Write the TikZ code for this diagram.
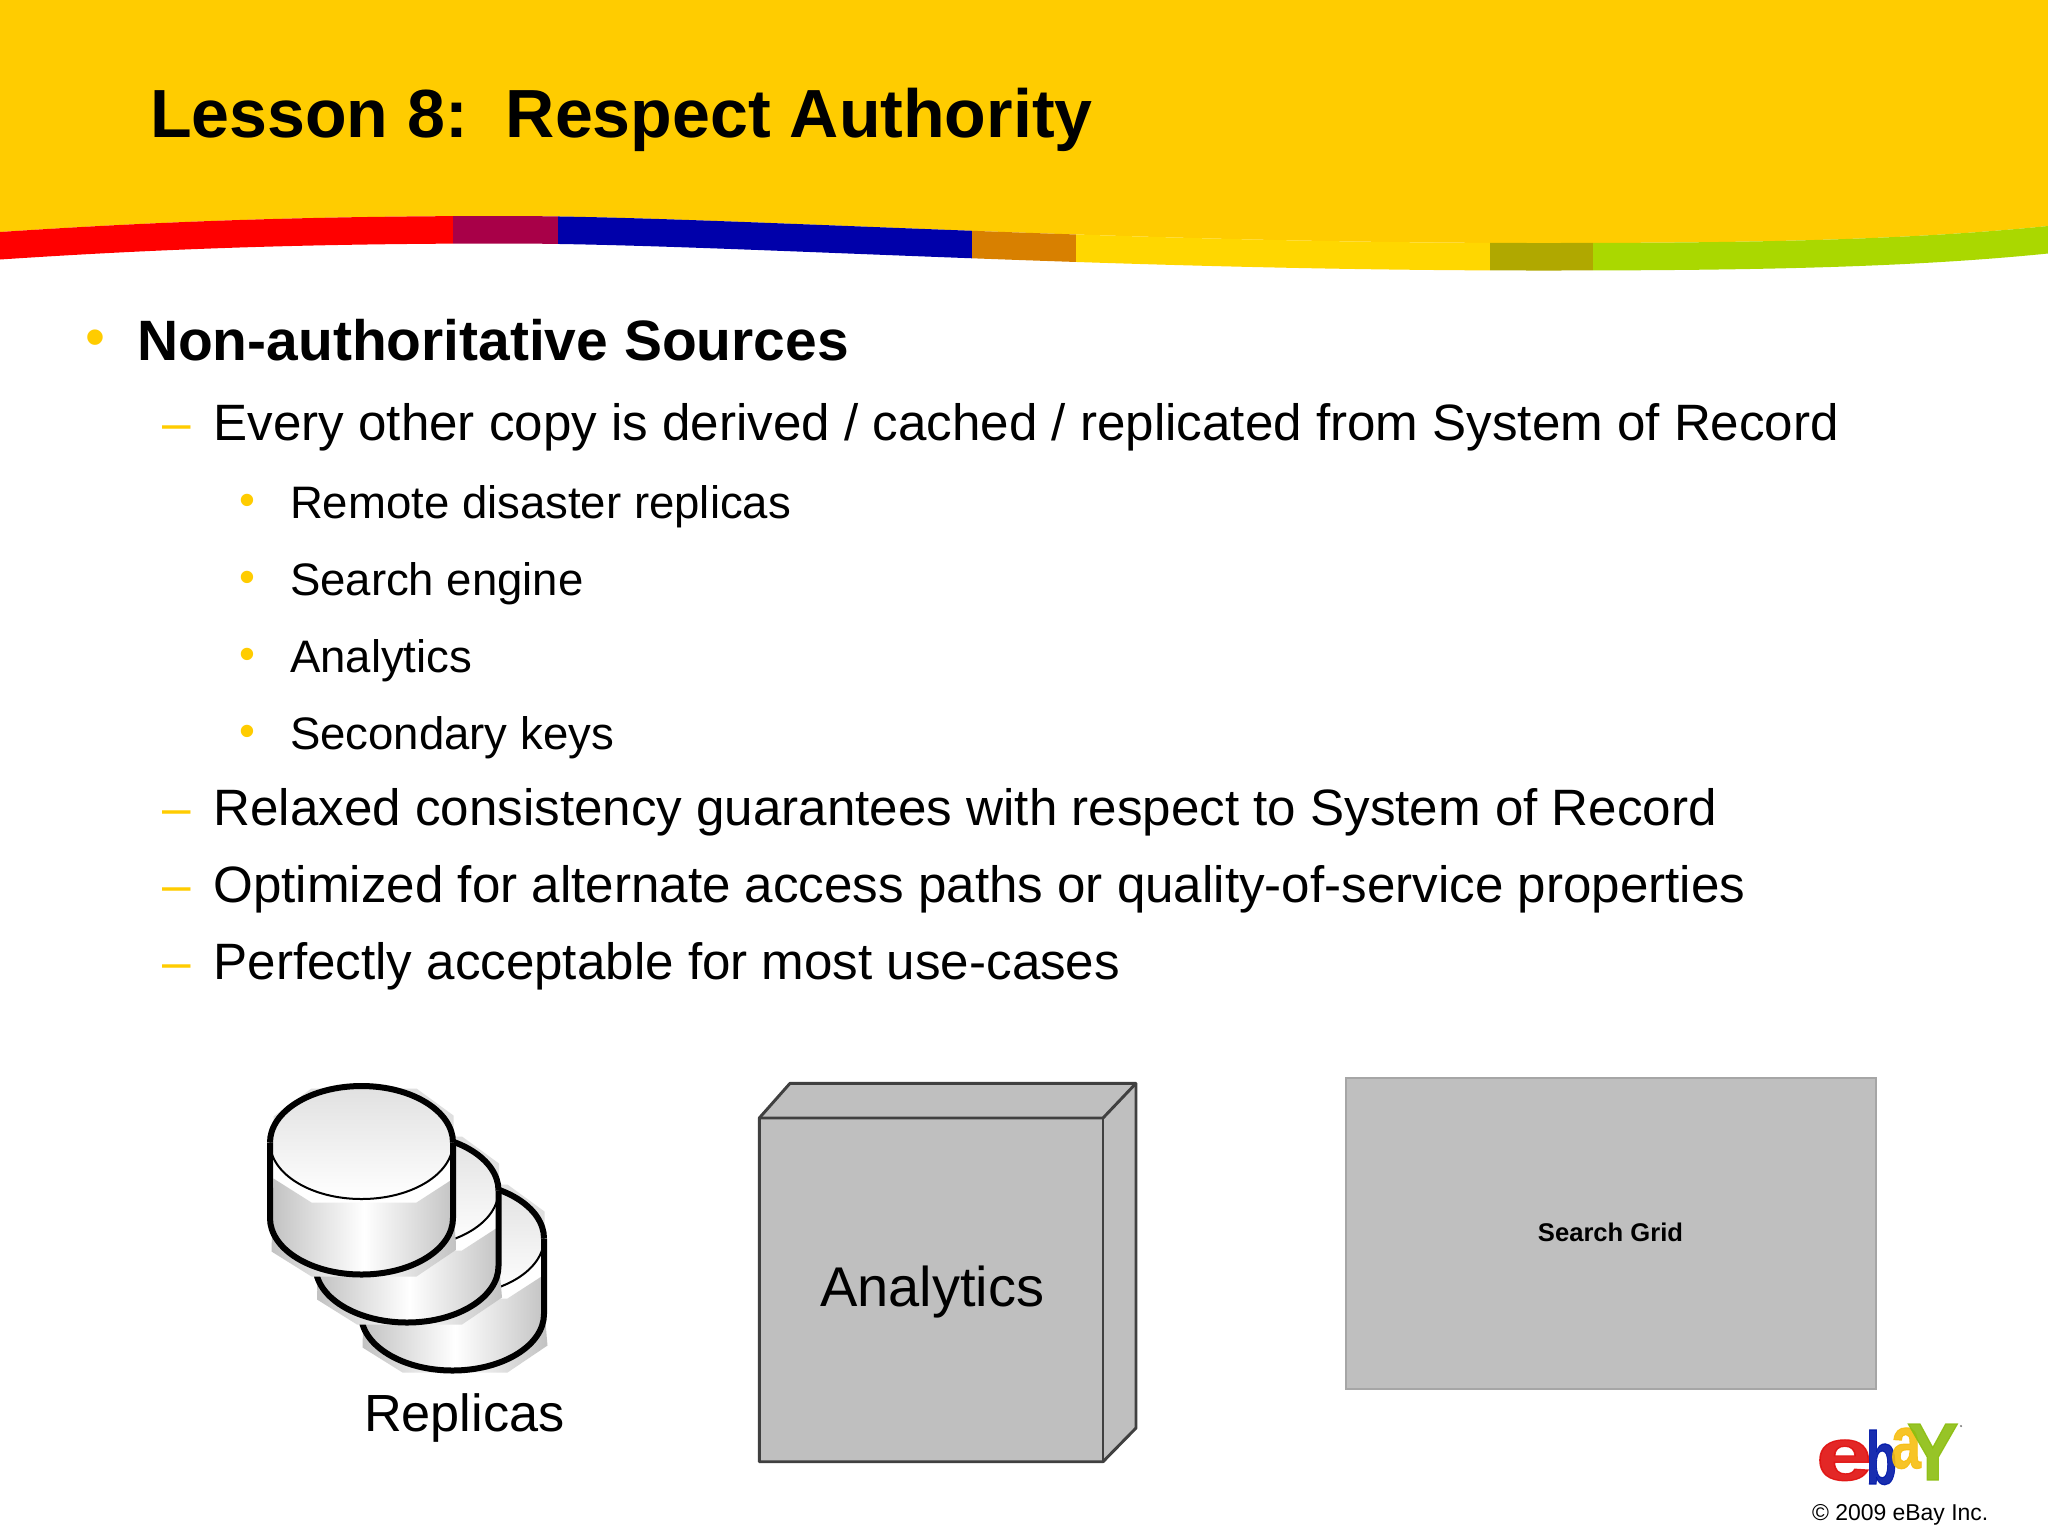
\documentclass[tikz,border=0pt]{standalone}
\usepackage{fontspec}
\setmainfont{Liberation Sans}
\newfontfamily\logoface[BoldFeatures={FakeBold=1.6}]{Liberation Sans}
\definecolor{banner}{HTML}{FFCC00}
\definecolor{wred}{HTML}{FF0000}
\definecolor{wmaroon}{HTML}{A80048}
\definecolor{wblue}{HTML}{0000AA}
\definecolor{worange}{HTML}{D88000}
\definecolor{wyellow}{HTML}{FFD700}
\definecolor{wolive}{HTML}{B0A800}
\definecolor{wgreen}{HTML}{AAD800}
\definecolor{boxgray}{HTML}{BFBFBF}
\definecolor{boxline}{HTML}{404040}
\definecolor{logored}{HTML}{E0100F}
\definecolor{logoblue}{HTML}{0018A8}
\definecolor{logoyellow}{HTML}{F7BE10}
\definecolor{logogreen}{HTML}{8CBE10}
\newcommand{\wavetop}{(0,232) .. controls (150,222) and (300,216) .. (505,216) .. controls (720,216) and (1100,243) .. (1540,243) .. controls (1730,243) and (1900,241) .. (2048,226)}
\newcommand{\fsz}[1]{\fontsize{#1pt}{#1pt}\selectfont}
\tikzset{
  txt/.style={anchor=base west,inner sep=0pt,outer sep=0pt,text=black},
  titletxt/.style={txt,font=\fsz{51.1}\bfseries},
  lone/.style={txt,font=\fsz{42.7}\bfseries},
  ltwo/.style={txt,font=\fsz{38.35}},
  lthree/.style={txt,font=\fsz{34.15}},
  markone/.style={txt,text=banner,font=\fsz{42.7}},
  marktwo/.style={txt,text=banner,font=\fsz{38.4}},
  markthree/.style={txt,text=banner,font=\fsz{34.1}},
  logotxt/.style={txt,font=\fsz{56}\logoface\bfseries,text opacity=0.9},
  solid box/.style={fill=boxgray,draw=boxline,line width=2.2pt,line join=round},
  dbcyl/.pic={
    \fill[white] (-91.5,0) arc[start angle=180,end angle=0,x radius=91.5,y radius=56.5] -- (91.5,75.5) arc[start angle=0,end angle=180,x radius=91.5,y radius=56.5] -- cycle;
    \fill[white] (-91.5,0) arc[start angle=180,end angle=360,x radius=91.5,y radius=56.5] -- cycle;
    \fill[gray!25] (-88,-26) -- (-50,-54) -- (55,-54) -- (92,-27) -- (92,1) -- (-88,1) -- cycle;
    \shade[top color=black!12,bottom color=white] (0,0) ellipse [x radius=91.5,y radius=56.5];
    \shade[left color=black!24,right color=black!24,middle color=white]
      (-88,36) -- (-50,60) -- (55,60) -- (89,38) -- (95,107) -- (55,134) -- (-50,134) -- (-90,109) -- cycle;
    \draw[line width=1.5pt] (-91.5,0) arc[start angle=180,end angle=0,x radius=91.5,y radius=56.5];
    \draw[line width=4.5pt,line join=round] (-91.5,0) arc[start angle=180,end angle=360,x radius=91.5,y radius=56.5];
    \draw[line width=4.5pt,line join=round] (-91.5,0) -- (-91.5,75.5) arc[start angle=180,end angle=0,x radius=91.5,y radius=56.5] -- (91.5,0);
  }
}
\begin{document}
\begin{tikzpicture}[x=0.75pt,y=-0.75pt]
\useasboundingbox (0,0) rectangle (2048,1536);
\fill[white] (0,0) rectangle (2048,1536);
% banner
\fill[banner] (0,0) -- (0,232) -- \wavetop -- (2048,0) -- cycle;
\begin{scope}
  \clip \wavetop -- (2048,253.5) .. controls (1900,268.5) and (1730,270.5) .. (1540,270.5) .. controls (1100,270.5) and (720,243.5) .. (505,243.5) .. controls (300,243.5) and (150,249.5) .. (0,259.5) -- cycle;
  \fill[wred] (0,200) rectangle (453,290);
  \fill[wmaroon] (453,200) rectangle (558,290);
  \fill[wblue] (558,200) rectangle (972,290);
  \fill[worange] (972,200) rectangle (1076,290);
  \fill[wyellow] (1076,200) rectangle (1490,290);
  \fill[wolive] (1490,200) rectangle (1593,290);
  \fill[wgreen] (1593,200) rectangle (2048,290);
\end{scope}
\node[titletxt] (title) at (150,137) {Lesson 8:\ \ Respect Authority};
% bullets
\node[markone] (m1) at (85.6,356.5) {•};
\node[lone] (t1) at (137,360.5) {Non-authoritative Sources};
\node[marktwo] (m2) at (162,440.5) {–};
\node[ltwo] (t2) at (213.5,440) {Every other copy is derived / cached / replicated from System of Record};
\node[markthree] (m3) at (239.5,515) {•};
\node[lthree] (t3) at (290,518.7) {Remote disaster replicas};
\node[markthree] (m4) at (239.5,592) {•};
\node[lthree] (t4) at (290,595.7) {Search engine};
\node[markthree] (m5) at (239.5,669) {•};
\node[lthree] (t5) at (290,672.7) {Analytics};
\node[markthree] (m6) at (239.5,746) {•};
\node[lthree] (t6) at (290,749.7) {Secondary keys};
\node[marktwo] (m7) at (162,825.5) {–};
\node[ltwo] (t7) at (213.5,825.5) {Relaxed consistency guarantees with respect to System of Record};
\node[marktwo] (m8) at (162,902.5) {–};
\node[ltwo] (t8) at (213.5,902.5) {Optimized for alternate access paths or quality-of-service properties};
\node[marktwo] (m9) at (162,979.5) {–};
\node[ltwo] (t9) at (213.5,979.5) {Perfectly acceptable for most use-cases};
% cylinders
\pic at (452.5,1238.5) {dbcyl};
\pic at (407,1190.5) {dbcyl};
\pic at (361.5,1142.5) {dbcyl};
\node[txt,font=\fsz{39.2}] (replicas) at (364,1431.5) {Replicas};
% analytics box
\draw[solid box] (759.3,1118) -- (790,1083.3) -- (1136,1083.3) -- (1136,1428) -- (1103,1461.7) -- (759.3,1461.7) -- cycle;
\draw[solid box,fill=none] (759.3,1118) -- (1103,1118) -- (1136,1083.3);
\draw[solid box,fill=none] (1103,1118) -- (1103,1461.7);
\node[txt,font=\fsz{42}] (analytics) at (820,1306) {Analytics};
% search grid
\draw[fill=boxgray,draw=black!35,line width=1.5pt] (1346,1077.5) rectangle (1875.5,1388.5);
\node[txt,font=\fsz{19.2}\bfseries,anchor=base] (search) at (1610.5,1241.7) {Search Grid};
% logo
\node[logotxt,text=logored] (le) at (1816,1480) {\scalebox{1.35}[1]{e}};
\node[logotxt,text=logoblue] (lb) at (1866,1484) {\scalebox{0.68}[1]{b}};
\node[logotxt,text=logoyellow] (la) at (1891,1468) {\scalebox{0.72}[1]{a}};
\node[logotxt,text=logogreen,font=\fsz{61}\logoface\bfseries] (ly) at (1907,1480) {\scalebox{0.95}[1]{Y}};
\fill[gray] (1961,1426) circle (1.2);
\node[txt,font=\fsz{17.2}] (copy) at (1812,1520.5) {© 2009 eBay Inc.};
\end{tikzpicture}
\end{document}
